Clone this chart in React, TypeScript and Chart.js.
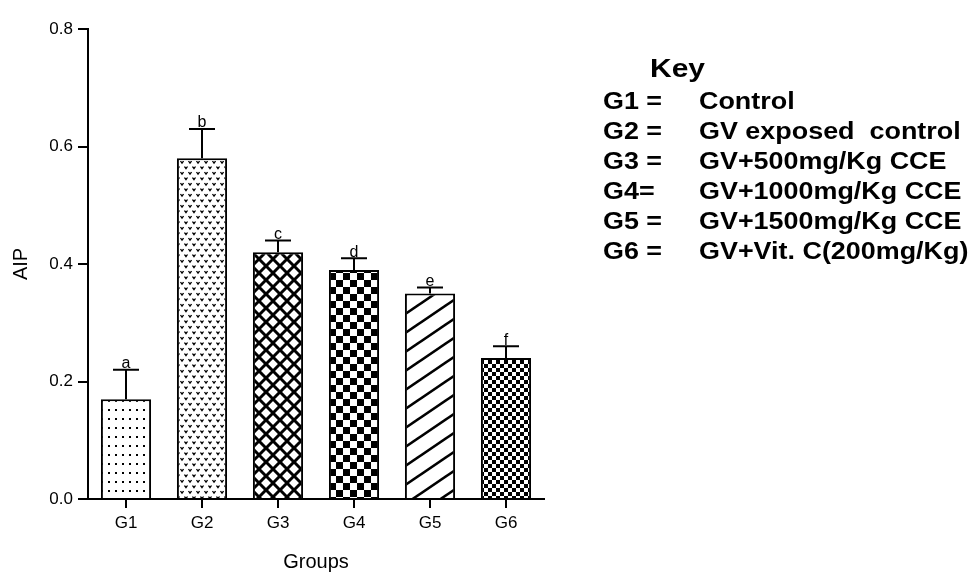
import React, { useEffect, useRef } from 'react';
import { Chart, registerables } from 'chart.js';

Chart.register(...registerables);

const categories = ['G1', 'G2', 'G3', 'G4', 'G5', 'G6'];
const aipMeans = [0.17, 0.58, 0.42, 0.39, 0.35, 0.24];
const aipErrors = [0.05, 0.05, 0.02, 0.02, 0.01, 0.02];
const sigLetters = ['a', 'b', 'c', 'd', 'e', 'f'];
const yTickValues = [0, 0.2, 0.4, 0.6, 0.8];
const keyCodes = ['G1 =', 'G2 =', 'G3 =', 'G4=', 'G5 =', 'G6 ='];
const keyDescriptions = [
  'Control',
  'GV exposed  control',
  'GV+500mg/Kg CCE',
  'GV+1000mg/Kg CCE',
  'GV+1500mg/Kg CCE',
  'GV+Vit. C(200mg/Kg)',
];

const FONT = '"Liberation Sans", Arial, Helvetica, sans-serif';

type Draw = (ctx: CanvasRenderingContext2D, w: number, h: number) => void;

function makePattern(w: number, h: number, draw: Draw): CanvasPattern | string {
  const c = document.createElement('canvas');
  c.width = w;
  c.height = h;
  const ctx = c.getContext('2d');
  if (!ctx) return '#fff';
  ctx.fillStyle = '#fff';
  ctx.fillRect(0, 0, w, h);
  ctx.fillStyle = '#000';
  ctx.strokeStyle = '#000';
  draw(ctx, w, h);
  return ctx.createPattern(c, 'repeat') || '#fff';
}

function buildPatterns() {
  const dots = makePattern(7, 9, (ctx) => {
    ctx.fillRect(3, 4, 2, 2);
  });
  const vees = makePattern(8, 11, (ctx) => {
    ctx.lineWidth = 1.3;
    const v = (x: number, y: number) => {
      ctx.beginPath();
      ctx.moveTo(x, y);
      ctx.lineTo(x + 1.5, y + 2.2);
      ctx.lineTo(x + 3, y);
      ctx.stroke();
    };
    v(0.5, 1.5);
    v(4.5, 7);
  });
  const cross = makePattern(14, 14, (ctx) => {
    ctx.lineWidth = 3;
    for (const dx of [-14, 0, 14]) {
      ctx.beginPath();
      ctx.moveTo(dx, 0);
      ctx.lineTo(dx + 14, 14);
      ctx.moveTo(dx, 14);
      ctx.lineTo(dx + 14, 0);
      ctx.stroke();
    }
  });
  const bigCheck = makePattern(14, 14, (ctx) => {
    ctx.fillRect(0, 0, 7, 7);
    ctx.fillRect(7, 7, 7, 7);
  });
  const slash = makePattern(28, 19, (ctx) => {
    ctx.lineWidth = 2.6;
    for (const k of [0, 1, 2]) {
      ctx.beginPath();
      ctx.moveTo(-10, 19 * k + (19 * 10) / 28);
      ctx.lineTo(38, 19 * k - (19 * 38) / 28);
      ctx.stroke();
    }
  });
  const smallCheck = makePattern(8, 8, (ctx) => {
    ctx.fillRect(0, 0, 4, 4);
    ctx.fillRect(4, 4, 4, 4);
  });
  return [dots, vees, cross, bigCheck, slash, smallCheck];
}

const errorBarPlugin = {
  id: 'errorBarsLetters',
  afterDatasetsDraw(chart: any) {
    const ctx: CanvasRenderingContext2D = chart.ctx;
    const meta = chart.getDatasetMeta(0);
    const yScale = chart.scales.y;
    ctx.save();
    ctx.strokeStyle = '#000';
    ctx.fillStyle = '#000';
    ctx.lineWidth = 2;
    ctx.font = `16px ${FONT}`;
    ctx.textAlign = 'center';
    ctx.textBaseline = 'alphabetic';
    meta.data.forEach((bar: any, i: number) => {
      const x = bar.x;
      const top = yScale.getPixelForValue(aipMeans[i]);
      const capY = yScale.getPixelForValue(aipMeans[i] + aipErrors[i]);
      ctx.beginPath();
      ctx.moveTo(x, top);
      ctx.lineTo(x, capY);
      ctx.moveTo(x - 13, capY);
      ctx.lineTo(x + 13, capY);
      ctx.stroke();
      ctx.fillText(sigLetters[i], x, capY - 1.5);
    });
    ctx.restore();
  },
};

export default function App() {
  const canvasRef = useRef<HTMLCanvasElement | null>(null);

  useEffect(() => {
    const canvas = canvasRef.current;
    if (!canvas) return;
    const patterns = buildPatterns();
    const chart = new Chart(canvas, {
      type: 'bar',
      data: {
        labels: categories,
        datasets: [
          {
            label: 'AIP',
            data: aipMeans,
            backgroundColor: patterns as any,
            borderColor: '#000',
            borderWidth: 2,
            barPercentage: 0.66,
            categoryPercentage: 1,
          },
        ],
      },
      options: {
        responsive: false,
        animation: false,
        devicePixelRatio: 1,
        layout: { padding: { left: 0, top: 29, right: 429, bottom: 0 } },
        plugins: {
          legend: { display: false },
          tooltip: { enabled: false },
        },
        scales: {
          x: {
            offset: true,
            grid: {
              offset: false,
              drawOnChartArea: false,
              drawTicks: true,
              tickLength: 9,
              color: '#000',
              lineWidth: 2,
            },
            border: { color: '#000', width: 2 },
            ticks: { color: '#000', font: { family: FONT, size: 17 }, padding: 5 },
            title: {
              display: true,
              text: 'Groups',
              color: '#000',
              font: { family: FONT, size: 20 },
              padding: { top: 0, bottom: 0 },
            },
            afterFit: (s: any) => {
              s.height = 75;
            },
          },
          y: {
            min: 0,
            max: 0.8,
            grid: {
              drawOnChartArea: false,
              drawTicks: true,
              tickLength: 10,
              color: '#000',
              lineWidth: 2,
            },
            border: { color: '#000', width: 2 },
            afterBuildTicks: (s: any) => {
              s.ticks = yTickValues.map((v) => ({ value: v }));
            },
            ticks: {
              color: '#000',
              font: { family: FONT, size: 17 },
              padding: 5,
              callback: (v: any) => Number(v).toFixed(1),
            },
            title: {
              display: true,
              text: 'AIP',
              color: '#000',
              font: { family: FONT, size: 20 },
              padding: { top: 9, bottom: 0 },
            },
            afterFit: (s: any) => {
              s.width = 88;
            },
          },
        },
      },
      plugins: [errorBarPlugin],
    });
    return () => chart.destroy();
  }, []);

  const rowTop = (i: number) => 101 + i * 29.9 - 14;

  const keyStyle: React.CSSProperties = {
    position: 'absolute',
    fontFamily: FONT,
    fontWeight: 'bold',
    fontSize: 23,
    lineHeight: '28px',
    transform: 'scaleX(1.17)',
    transformOrigin: 'left center',
    whiteSpace: 'pre',
    color: '#000',
  };

  return (
    <div style={{ position: 'absolute', left: 0, top: 0, width: 973, height: 574, background: '#fff', overflow: 'hidden' }}>
      <canvas ref={canvasRef} width={973} height={574} style={{ position: 'absolute', left: 0, top: 0, width: 973, height: 574 }} />
      <div
        style={{
          position: 'absolute',
          left: 650,
          top: 68 - 15,
          fontFamily: FONT,
          fontWeight: 'bold',
          fontSize: 25,
          lineHeight: '30px',
          transform: 'scaleX(1.2)',
          transformOrigin: 'left center',
          whiteSpace: 'nowrap',
          color: '#000',
        }}
      >
        Key
      </div>
      {keyCodes.map((code, i) => (
        <React.Fragment key={code}>
          <div style={{ ...keyStyle, left: 603, top: rowTop(i) }}>{code}</div>
          <div style={{ ...keyStyle, left: 699, top: rowTop(i) }}>{keyDescriptions[i]}</div>
        </React.Fragment>
      ))}
    </div>
  );
}
